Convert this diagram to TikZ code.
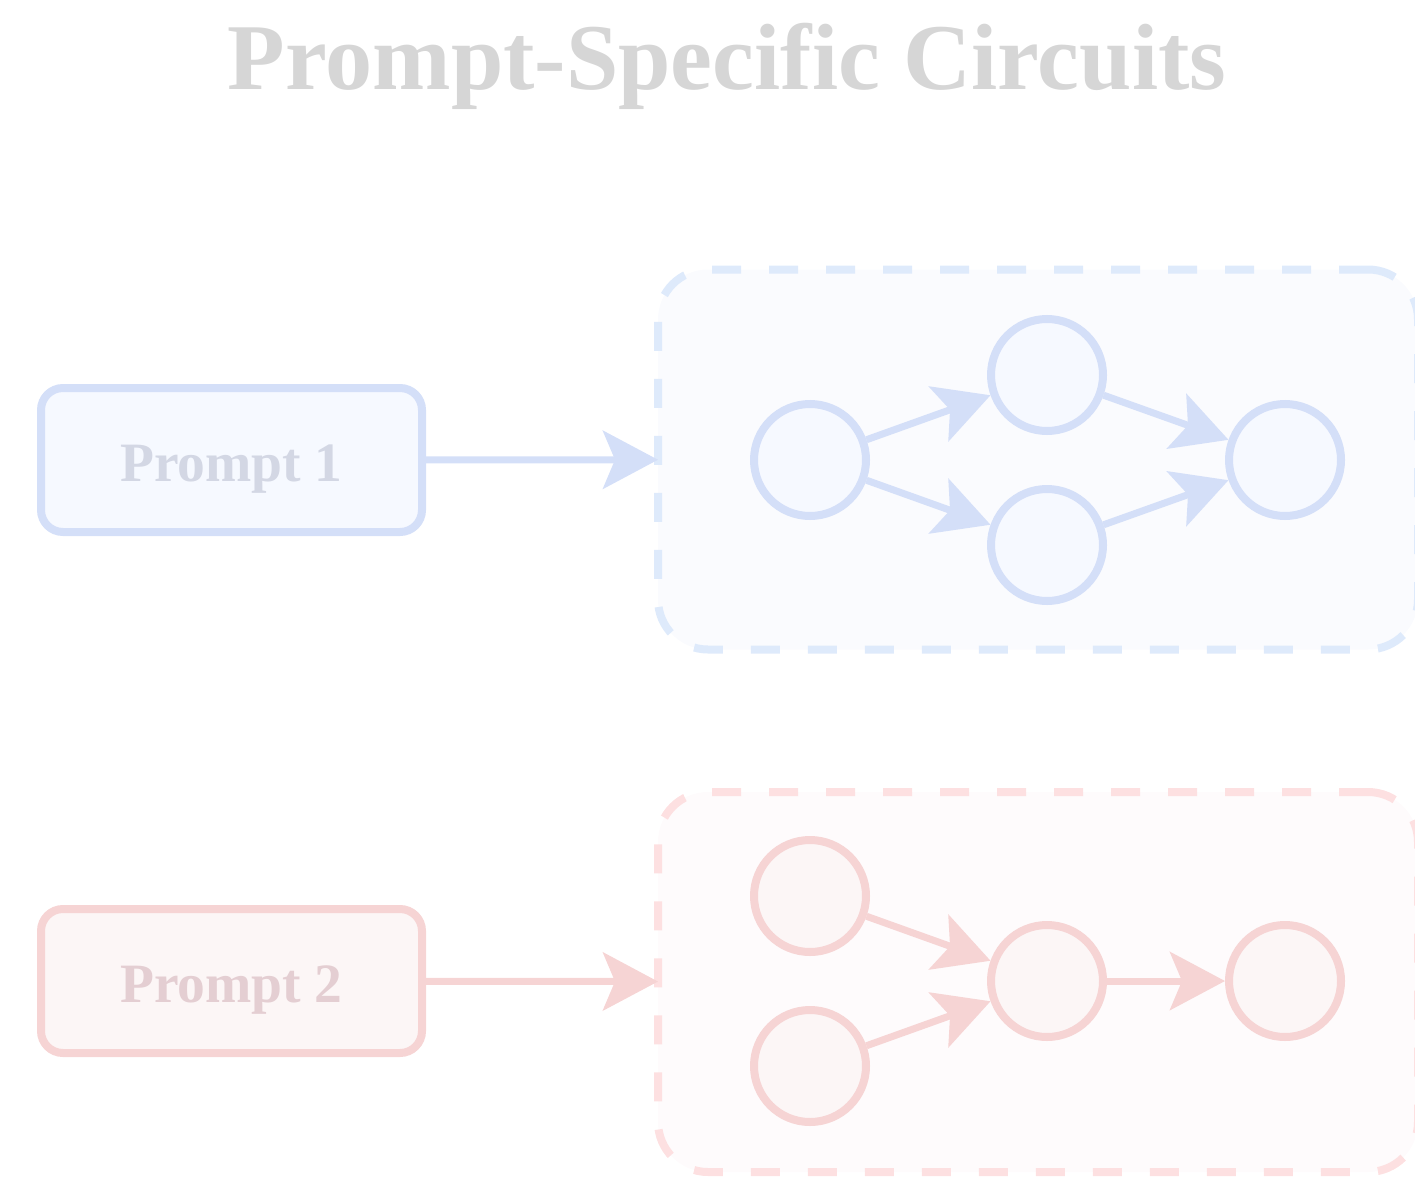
\documentclass[tikz,border=0pt]{standalone}
\usepackage{fontspec}
\setmainfont{Liberation Serif}
\usepackage{tikz}
\usetikzlibrary{arrows.meta, positioning}
\definecolor{pBlue}{RGB}{212,223,248}
\definecolor{pBlueFill}{RGB}{246,249,255}
\definecolor{pBlueDash}{RGB}{222,234,251}
\definecolor{pBlueBg}{RGB}{250,251,254}
\definecolor{pBlueText}{RGB}{211,215,228}
\definecolor{pRed}{RGB}{246,212,212}
\definecolor{pRedFill}{RGB}{252,246,246}
\definecolor{pRedDash}{RGB}{253,224,225}
\definecolor{pRedBg}{RGB}{254,251,252}
\definecolor{pRedText}{RGB}{228,206,210}
\definecolor{pTitle}{RGB}{214,214,214}

\begin{document}
\begin{tikzpicture}[
    promptbox/.style={draw, rounded corners=2.2mm, minimum width=3.81cm, minimum height=1.44cm,
      line width=0.8mm, inner sep=0pt, text height=0.42cm, text depth=0pt,
      font=\fontsize{15.8}{18}\selectfont\bfseries},
    circbox/.style={draw, dash pattern=on 2.9mm off 2.8mm, rounded corners=5mm,
      minimum width=7.6cm, minimum height=3.8cm, line width=0.8mm, outer sep=0pt},
    unit/.style={circle, draw, line width=0.8mm, minimum size=1.12cm, inner sep=0pt},
    arr/.style={-{Stealth[length=5.5mm, width=5.8mm, inset=1.2mm]}, line width=0.7mm}
  ]
    \useasboundingbox (0,0) rectangle (14.15,-11.78);

    \node[anchor=base, text=pTitle, font=\fontsize{26.8}{30}\selectfont\bfseries]
      (title) at (7.27,-0.90) {Prompt-Specific Circuits};

    % first prompt and its circuit
    \node[promptbox, draw=pBlue, fill=pBlueFill, text=pBlueText] (p1) at (2.315,-4.60) {Prompt 1};
    \node[circbox, draw=pBlueDash, fill=pBlueBg] (circ1) at (10.38,-4.595) {};
    \node[unit, draw=pBlue, fill=pBlueFill] (a1) at (8.10,-4.60) {};
    \node[unit, draw=pBlue, fill=pBlueFill] (a2) at (10.47,-3.75) {};
    \node[unit, draw=pBlue, fill=pBlueFill] (a3) at (10.47,-5.45) {};
    \node[unit, draw=pBlue, fill=pBlueFill] (a4) at (12.85,-4.60) {};
    \draw[arr, pBlue] (p1) -- (circ1);
    \draw[arr, pBlue] (a1) -- (a2);
    \draw[arr, pBlue] (a1) -- (a3);
    \draw[arr, pBlue] (a2) -- (a4);
    \draw[arr, pBlue] (a3) -- (a4);

    % second prompt and its circuit
    \node[promptbox, draw=pRed, fill=pRedFill, text=pRedText] (p2) at (2.315,-9.81) {Prompt 2};
    \node[circbox, draw=pRedDash, fill=pRedBg] (circ2) at (10.38,-9.82) {};
    \node[unit, draw=pRed, fill=pRedFill] (b1) at (8.10,-8.96) {};
    \node[unit, draw=pRed, fill=pRedFill] (b2) at (8.10,-10.66) {};
    \node[unit, draw=pRed, fill=pRedFill] (b3) at (10.47,-9.81) {};
    \node[unit, draw=pRed, fill=pRedFill] (b4) at (12.85,-9.81) {};
    \draw[arr, pRed] (p2) -- (circ2);
    \draw[arr, pRed] (b1) -- (b3);
    \draw[arr, pRed] (b2) -- (b3);
    \draw[arr, pRed] (b3) -- (b4);
\end{tikzpicture}
\end{document}
